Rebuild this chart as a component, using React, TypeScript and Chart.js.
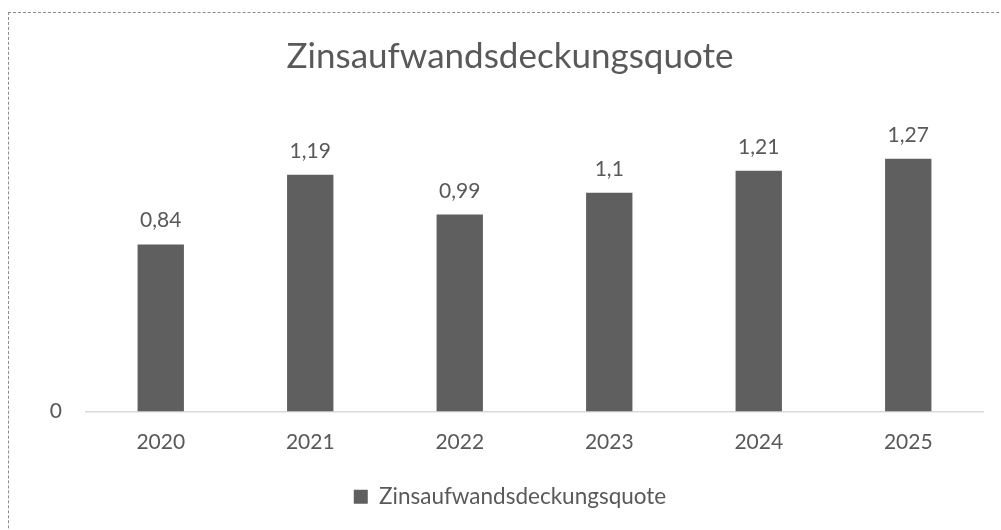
import React, { useEffect, useRef } from "react";
import { Chart, registerables } from "chart.js";

Chart.register(...registerables);

const categories: string[] = ["2020", "2021", "2022", "2023", "2024", "2025"];
const seriesName = "Zinsaufwandsdeckungsquote";
const values: number[] = [0.84, 1.19, 0.99, 1.1, 1.21, 1.27];
const yTickLabels: number[] = [0];

const TEXT = "#595959";
const BAR = "#5f5f5f";
const FONT = "Lato, 'Open Sans', sans-serif";

const dataLabelPlugin = {
  id: "dataLabels",
  afterDatasetsDraw(chart: any) {
    const ctx = chart.ctx;
    const meta = chart.getDatasetMeta(0);
    ctx.save();
    ctx.font = `21px ${FONT}`;
    ctx.fillStyle = TEXT;
    ctx.textAlign = "center";
    ctx.textBaseline = "alphabetic";
    meta.data.forEach((bar: any, i: number) => {
      const v = chart.data.datasets[0].data[i] as number;
      ctx.fillText(String(v).replace(".", ","), bar.x, bar.y - 17);
    });
    ctx.restore();
  },
};

export default function App() {
  const ref = useRef<HTMLCanvasElement>(null);
  useEffect(() => {
    if (!ref.current) return;
    const chart = new Chart(ref.current, {
      type: "bar",
      data: {
        labels: categories,
        datasets: [
          {
            label: seriesName,
            data: values,
            backgroundColor: BAR,
            borderWidth: 0,
            barPercentage: 0.31,
            categoryPercentage: 1,
          },
        ],
      },
      options: {
        animation: false,
        responsive: false,
        maintainAspectRatio: false,
        layout: { padding: { left: 37, right: 18, top: 0, bottom: 12 } },
        plugins: {
          title: {
            display: true,
            text: seriesName,
            color: TEXT,
            font: { family: FONT, size: 35, weight: "normal" },
            padding: { top: 36, bottom: 55 },
          },
          legend: {
            display: true,
            position: "bottom",
            labels: {
              color: TEXT,
              font: { family: FONT, size: 22.5 },
              boxWidth: 14,
              boxHeight: 14,
              padding: 10,
            },
          },
          tooltip: { enabled: false },
        },
        scales: {
          x: {
            grid: { display: false, drawTicks: false },
            border: { display: true, color: "#d9d9d9", width: 1.5 },
            ticks: {
              color: TEXT,
              font: { family: FONT, size: 21 },
              padding: 18,
            },
            afterFit(scale: any) {
              scale.height = 64;
            },
          },
          y: {
            min: 0,
            max: 1.4,
            grid: { display: false, drawTicks: false },
            border: { display: false },
            ticks: {
              stepSize: 0.2,
              color: TEXT,
              font: { family: FONT, size: 21 },
              padding: 24,
              callback: (v: any) => (yTickLabels.includes(Number(v)) ? String(v) : ""),
            },
            afterFit(scale: any) {
              scale.width = 49;
            },
          },
        },
      },
      plugins: [dataLabelPlugin],
    });
    return () => chart.destroy();
  }, []);

  return (
    <>
      <div
        style={{
          position: "fixed",
          left: 8,
          top: 12,
          width: 1100,
          height: 600,
          borderLeft: "1px dashed #8c8c8c",
          borderTop: "1px dashed #8c8c8c",
        }}
      />
      <canvas
        ref={ref}
        width={1001}
        height={530}
        style={{ position: "fixed", left: 0, top: 0, width: 1001, height: 530 }}
      />
    </>
  );
}
